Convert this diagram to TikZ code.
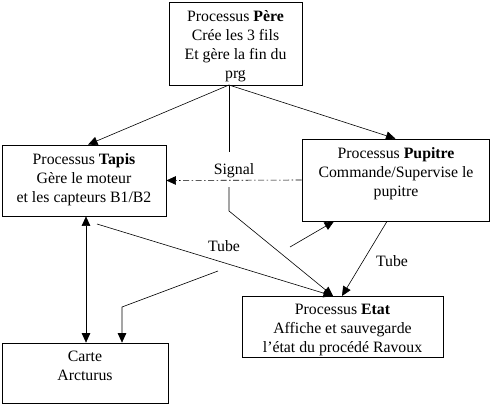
\documentclass[tikz,border=0pt]{standalone}
\usepackage{fontspec}
\setmainfont{Liberation Serif}
\usetikzlibrary{arrows.meta}
\begin{document}
\begin{tikzpicture}[x=1pt,y=-1pt,
  box/.style={draw,line width=0.7pt,inner sep=0pt,fill=none},
  txt/.style={align=center,inner sep=0pt,font=\fontsize{15.8}{19}\selectfont},
  conn/.style={line width=0.6pt},
  tip/.style={-{Triangle[length=9.5pt,width=8.5pt]}},
  lbl/.style={inner sep=0pt,font=\fontsize{15.8}{19}\selectfont},
  sigline/.style={dash pattern=on 6pt off 2.5pt on 1.5pt off 2.5pt}]
\useasboundingbox (0,0) rectangle (495,404);
% boxes
\node[box,minimum width=133pt,minimum height=83pt] (pere) at (235.5,43.5) {};
\node[box,minimum width=164pt,minimum height=71pt] (tapis) at (84,180.5) {};
\node[box,minimum width=187pt,minimum height=82pt] (pupitre) at (395.5,180) {};
\node[box,minimum width=201pt,minimum height=61pt] (etat) at (342.5,326.5) {};
\node[box,minimum width=166pt,minimum height=60pt] (carte) at (85,373) {};
% texts
\node[txt] (pereT) at (235.5,46.5) {Processus \textbf{Père}\\Crée les 3 fils\\Et gère la fin du\\prg};
\node[txt] (tapisT) at (84,180) {Processus \textbf{Tapis}\\Gère le moteur\\et les capteurs B1/B2};
\node[txt] (pupitreT) at (396,174) {Processus \textbf{Pupitre}\\Commande/Supervise le\\pupitre};
\node[txt] (etatT) at (342.5,330) {Processus \textbf{Etat}\\Affiche et sauvegarde\\l’état du procédé Ravoux};
\node[txt] (carteT) at (85,365.5) {Carte\\Arcturus};
% labels
\node[lbl] (sig) at (234,171) {Signal};
\node[lbl] (tube1) at (224,246) {Tube};
\node[lbl] (tube2) at (392,261) {Tube};
% coordinates
\coordinate (J) at (229,85);
\coordinate (V1) at (229,152);
\coordinate (V2) at (229,187);
\coordinate (V3) at (229,211);
\coordinate (C1) at (122,307);
\coordinate (C2) at (218,271);
\coordinate (P1) at (290,247);
\coordinate (T1) at (97,224);
\coordinate (E1) at (333,296);
\coordinate (E2) at (342,296);
% connectors
\draw[conn,tip] (J) -- ([xshift=4pt]tapis.north);
\draw[conn,tip] (J) -- (pupitre.north);
\draw[conn] (J) -- (V1);
\draw[conn,tip] (V2) -- (V3) -- (E1);
\draw[conn,sigline,tip] (pupitre.west) -- (tapis.east);
\draw[conn,tip] (T1) -- (E1);
\draw[conn,tip] ([xshift=-8.5pt]pupitre.south) -- (E2);
\draw[conn,{Triangle[length=9.5pt,width=8.5pt]}-{Triangle[length=9.5pt,width=8.5pt]}] ([xshift=2pt]tapis.south) -- ([xshift=1pt]carte.north);
\draw[conn,tip] (C2) -- (C1) -- (C1 |- carte.north);
\draw[conn,tip] (P1) -- ([xshift=-61.5pt]pupitre.south);
\end{tikzpicture}
\end{document}
